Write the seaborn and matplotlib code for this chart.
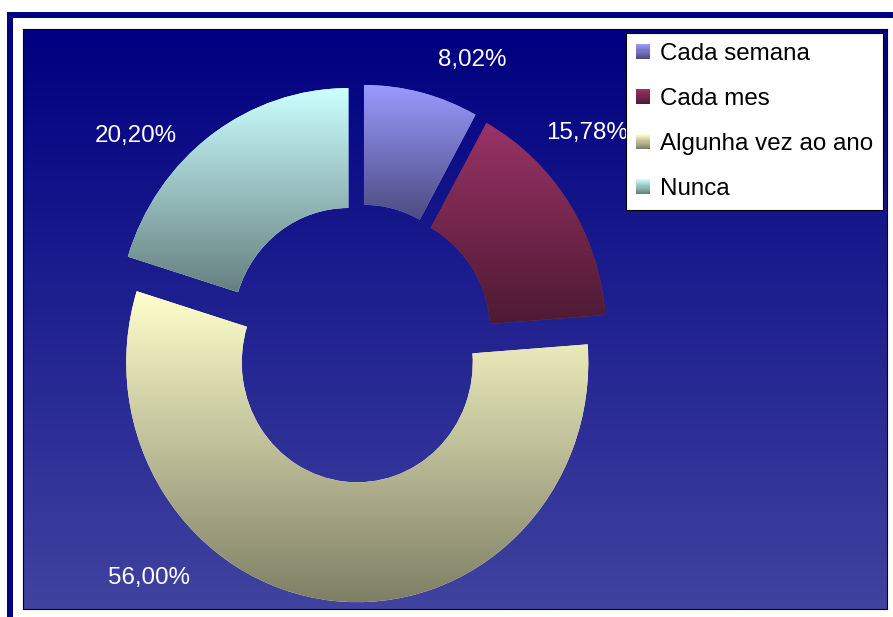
import numpy as np
import matplotlib
matplotlib.use("Agg")
import matplotlib.pyplot as plt
import seaborn as sns
from matplotlib.patches import Rectangle
from matplotlib.legend_handler import HandlerBase

categories = ["Cada semana", "Cada mes", "Algunha vez ao ano", "Nunca"]
percentages = [8.02, 15.78, 56.00, 20.20]
top_colors = ["#9999FF", "#993366", "#FFFFCC", "#CCFFFF"]
bottom_colors = ["#4C4C80", "#4D1A33", "#7F7F66", "#668080"]

# where Excel put the percentage labels (data coords, pie centre = 0,0)
label_positions = [(0.49, 1.182), (0.985, 0.877), (-0.91, -0.979), (-0.967, 0.865)]

W, H = 893, 617
FS = 17.4


class GradientHandler(HandlerBase):
    """legend square with a vertical gradient, like the wedges"""
    def __init__(self, top, bottom):
        super().__init__()
        self.colors = sns.blend_palette([top, bottom], n_colors=14)

    def create_artists(self, legend, orig_handle, xdescent, ydescent,
                       width, height, fontsize, trans):
        n = len(self.colors)
        strips = []
        for i, c in enumerate(self.colors):
            y = -ydescent + height * (1 - (i + 1) / n)
            strips.append(Rectangle((-xdescent, y), width, height / n * 1.05,
                                    facecolor=c, edgecolor="none", transform=trans))
        return strips


sns.set_style("white")
plt.rcParams["font.family"] = ["Liberation Sans", "DejaVu Sans"]

fig = plt.figure(figsize=(W / 100, H / 100), dpi=100)
fig.patch.set_facecolor("white")

# navy outer frame (right and bottom sides fall outside the image)
fig.add_artist(Rectangle((10 / W, -0.1), 1.2, 1 - 15 / H + 0.1,
                         transform=fig.transFigure, fill=False,
                         edgecolor="#000080", linewidth=4.32))

ax = fig.add_axes([23 / W, 1 - 609 / H, (887 - 23) / W, (609 - 29) / H])

bg = np.array(sns.blend_palette(["#000080", "#4143A0"], n_colors=256))[:, None, :]
ax.imshow(bg, extent=(0, 1, 0, 1), transform=ax.transAxes, aspect="auto",
          origin="upper", zorder=0)

wedges, _ = ax.pie(percentages, explode=[0.08] * len(percentages), startangle=90,
                   counterclock=False, radius=1, colors=top_colors,
                   wedgeprops=dict(width=0.5, linewidth=0))

for wedge, top, bottom in zip(wedges, top_colors, bottom_colors):
    wedge.set_zorder(1)
    ext = wedge.get_path().get_extents()
    grad = np.array(sns.blend_palette([top, bottom], n_colors=128))[:, None, :]
    im = ax.imshow(grad, extent=(ext.x0, ext.x1, ext.y0, ext.y1), aspect="auto",
                   origin="upper", zorder=2, interpolation="bilinear")
    im.set_clip_path(wedge)

for (x, y), v in zip(label_positions, percentages):
    ax.text(x, y, f"{v:.2f}%".replace(".", ","), color="white", fontsize=FS,
            ha="center", va="center", zorder=3)

ax.set_aspect("auto")
ax.set_xlim(-1.456, 2.284)
ax.set_ylim(-1.108, 1.311)
ax.set_frame_on(True)
for sp in ax.spines.values():
    sp.set_color("black")
    sp.set_linewidth(0.8)
ax.set_xticks([])
ax.set_yticks([])

proxies = [Rectangle((0, 0), 1, 1, facecolor=t) for t in top_colors]
handler_map = {p: GradientHandler(t, b) for p, t, b in zip(proxies, top_colors, bottom_colors)}
leg = ax.legend(proxies, categories, handler_map=handler_map, loc="upper right",
                bbox_to_anchor=(883 / W, 1 - 33 / H), bbox_transform=fig.transFigure,
                borderaxespad=0, fontsize=FS, frameon=True, fancybox=False,
                framealpha=1, facecolor="white", edgecolor="black",
                borderpad=0.42, handlelength=0.58, handleheight=0.58,
                handletextpad=0.41, labelspacing=0.95, labelcolor="black")
leg.get_frame().set_linewidth(0.8)
leg.set_zorder(5)

fig.savefig("out.png", dpi=100)
